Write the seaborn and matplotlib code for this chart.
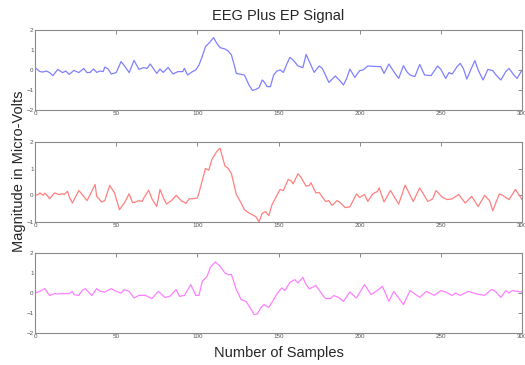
import numpy as np
import seaborn as sns
import matplotlib.pyplot as plt

# ------------------------------- DONNEES -------------------------------
# valeurs (echantillon, amplitude)
x_eeg = [0, 3, 5, 7, 9, 11, 14, 17, 19, 21, 24, 27, 30, 32, 34, 36, 38, 40, 42, 43,
         45, 47, 50, 53, 55, 58, 61, 64, 67, 69, 71, 75, 77, 79, 82, 85, 88, 91, 92, 94,
         97, 99, 101, 103, 105, 107, 110, 112, 114, 117, 119, 121, 123, 124, 127, 129, 132, 134, 136, 138,
         140, 141, 143, 145, 147, 149, 151, 153, 155, 157, 159, 162, 165, 167, 169, 172, 175, 177, 181, 185,
         188, 190, 192, 194, 197, 200, 202, 205, 209, 213, 215, 218, 221, 224, 227, 229, 231, 234, 237, 240,
         244, 248, 250, 253, 255, 257, 260, 262, 264, 266, 269, 271, 273, 276, 279, 282, 284, 287, 290, 292,
         295, 297, 300]
y_eeg = [0.12, -0.08, -0.1, -0.05, -0.13, -0.28, 0.03, -0.13, -0.05, -0.22, -0.02, -0.13, 0.08, -0.13, -0.12, 0.05, -0.12, -0.05, -0.08, 0.15,
         0.05, -0.2, -0.13, 0.42, 0.22, -0.13, 0.48, 0.03, 0.12, 0.08, 0.3, -0.17, 0.05, -0.12, 0.13, -0.2, -0.08, -0.08, 0.08, -0.25,
         -0.08, 0.0, 0.25, 0.67, 1.17, 1.33, 1.62, 1.33, 1.12, 1.05, 0.95, 0.75, 0.17, -0.17, -0.22, -0.25, -0.78, -1.02, -0.97, -0.88,
         -0.5, -0.58, -0.83, -0.83, -0.25, -0.05, 0.0, -0.12, 0.28, 0.63, 0.5, 0.2, 0.12, 0.78, 0.42, -0.12, 0.2, 0.08, -0.62, -0.3,
         -0.55, -0.75, -0.42, 0.05, -0.37, -0.03, 0.0, 0.2, 0.18, 0.17, -0.17, 0.3, -0.08, -0.42, 0.22, -0.08, -0.25, -0.33, 0.28, -0.25,
         -0.28, 0.2, 0.03, -0.42, -0.13, -0.2, 0.17, 0.33, 0.05, -0.45, 0.12, 0.47, 0.0, -0.5, 0.03, -0.03, -0.25, -0.5, -0.08, 0.08,
         -0.25, -0.42, 0.0]

x_ep = [0, 2, 3, 5, 6, 8, 9, 12, 15, 17, 18, 20, 21, 23, 27, 30, 32, 34, 37, 38,
        41, 43, 46, 49, 52, 55, 58, 60, 61, 64, 66, 67, 70, 72, 75, 77, 79, 81, 84, 87,
        90, 93, 95, 97, 100, 101, 104, 105, 107, 109, 112, 114, 115, 117, 119, 121, 124, 127, 129, 132,
        134, 136, 138, 140, 142, 144, 146, 149, 151, 153, 156, 158, 159, 162, 164, 167, 169, 170, 173, 175,
        179, 181, 183, 186, 188, 191, 194, 198, 200, 203, 205, 208, 211, 212, 215, 219, 224, 228, 233, 237,
        242, 245, 247, 251, 254, 257, 261, 265, 269, 273, 277, 280, 282, 286, 288, 292, 296, 300]
y_ep = [0.0, 0.03, 0.09, 0.0, 0.08, -0.04, -0.13, 0.09, 0.03, 0.06, 0.03, 0.15, -0.04, -0.29, 0.18, -0.04, -0.2, 0.03, 0.41, -0.04,
        -0.25, -0.2, 0.37, 0.09, -0.54, -0.29, 0.06, -0.27, -0.27, -0.2, -0.23, -0.1, 0.19, -0.13, -0.42, 0.22, -0.08, -0.33, -0.2, 0.0,
        -0.2, -0.3, -0.13, -0.13, -0.1, 0.09, 0.78, 1.01, 0.94, 1.35, 1.65, 1.77, 1.54, 1.1, 1.01, 0.81, 0.03, -0.29, -0.54, -0.67,
        -0.73, -0.8, -0.99, -0.67, -0.61, -0.76, -0.35, 0.0, 0.22, 0.18, 0.6, 0.53, 0.43, 0.81, 0.66, 0.34, 0.37, 0.47, 0.09, 0.11,
        -0.23, -0.2, -0.38, -0.2, -0.27, -0.46, -0.43, 0.05, -0.08, 0.03, -0.23, 0.05, 0.15, 0.28, -0.25, 0.18, -0.33, 0.38, -0.23, 0.28,
        -0.23, -0.13, 0.18, -0.08, -0.16, -0.13, 0.03, -0.29, -0.04, -0.42, 0.0, -0.2, -0.58, 0.05, 0.0, -0.16, 0.22, -0.16]

x_avg = [0, 3, 6, 9, 12, 14, 17, 21, 23, 24, 27, 29, 31, 35, 38, 40, 43, 47, 50, 53,
         55, 58, 61, 64, 68, 72, 76, 80, 83, 87, 89, 92, 96, 99, 101, 103, 106, 108, 111, 114,
         117, 119, 121, 124, 127, 130, 132, 135, 137, 139, 141, 144, 147, 149, 152, 154, 157, 160, 162, 165,
         167, 169, 173, 177, 179, 182, 184, 187, 190, 194, 198, 203, 207, 210, 214, 218, 221, 227, 231, 237,
         241, 246, 250, 253, 257, 259, 262, 267, 272, 277, 281, 283, 287, 290, 292, 294, 300]
y_avg = [0.0, 0.08, 0.22, -0.13, -0.03, -0.05, -0.03, -0.03, 0.08, -0.08, -0.12, 0.12, 0.22, -0.13, 0.22, 0.08, 0.05, 0.22, 0.08, 0.0,
         0.17, 0.08, -0.25, -0.12, -0.12, -0.28, 0.08, -0.22, -0.17, 0.17, -0.17, -0.12, 0.42, -0.12, -0.12, 0.58, 0.83, 1.28, 1.55, 1.33,
         1.0, 0.92, 0.92, 0.17, -0.33, -0.42, -0.67, -1.08, -1.05, -0.75, -0.58, -0.72, -0.33, -0.05, 0.25, 0.12, 0.53, 0.67, 0.5, 0.78,
         0.42, 0.2, 0.38, -0.08, -0.28, -0.28, -0.13, -0.22, -0.42, 0.05, -0.25, 0.42, -0.08, 0.08, 0.33, -0.42, 0.08, -0.58, 0.12, -0.22,
         0.08, -0.12, 0.12, 0.05, -0.13, 0.0, -0.12, 0.08, -0.05, -0.12, 0.17, 0.13, -0.22, 0.12, 0.0, 0.12, 0.05]

couleurs = ["#8080ff", "#ff8080", "#ff80ff"]
ylims = [(-2, 2), (-1, 2), (-2, 2)]
xticks = [0, 50, 100, 150, 200, 250, 300]

# ------------------------------- AFFICHAGE -----------------------------
sns.set_style("white")
plt.rcParams['font.family'] = ['Liberation Sans', 'DejaVu Sans']

fig = plt.figure(figsize=(5.25, 3.65), dpi=100)
positions = [[0.0667, 0.6986, 0.9276, 0.2192],
             [0.0667, 0.3918, 0.9276, 0.2192],
             [0.0667, 0.0877, 0.9276, 0.2192]]

series = [(x_eeg, y_eeg), (x_ep, y_ep), (x_avg, y_avg)]
axes = []
for k in range(3):
    ax = fig.add_axes(positions[k])
    sns.lineplot(x=series[k][0], y=series[k][1], ax=ax, color=couleurs[k],
                 linewidth=0.9, estimator=None)
    ax.set_xlim(0, 300)
    ax.set_ylim(*ylims[k])
    ax.set_xticks(xticks)
    ax.set_yticks(range(ylims[k][0], ylims[k][1] + 1))
    ax.tick_params(direction="in", length=3, width=0.6, colors="#777777",
                   labelsize=4.5, pad=1, top=True, right=True,
                   labelcolor="#555555")
    for s in ax.spines.values():
        s.set_color("#8a8a8a")
        s.set_linewidth(0.8)
    axes.append(ax)

axes[0].set_title("EEG Plus EP Signal", fontsize=10.5, pad=7)
axes[2].set_xlabel("Number of Samples", fontsize=10.5, labelpad=5)
fig.text(0.036, 0.53, "Magnitude in Micro-Volts", rotation=90, fontsize=10.5,
         ha="center", va="center")

plt.savefig("out.png", dpi=100)
